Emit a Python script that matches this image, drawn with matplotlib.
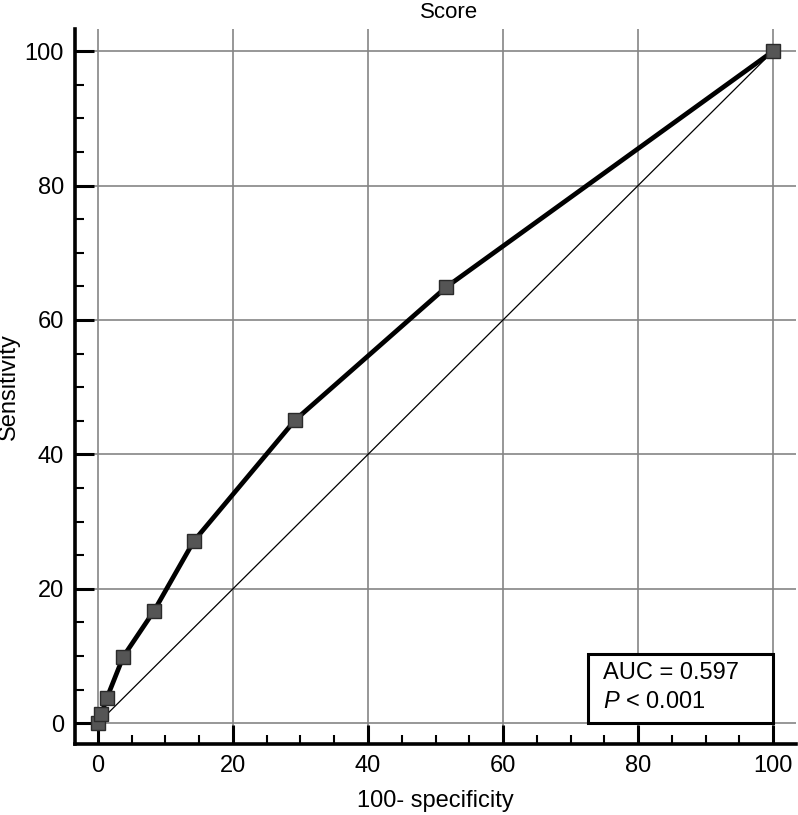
import matplotlib
matplotlib.use("Agg")
import matplotlib.pyplot as plt
from matplotlib.patches import Rectangle
from matplotlib.ticker import MultipleLocator

# ROC points
fpr = [0, 0.5, 1.3, 3.75, 8.3, 14.2, 29.2, 51.6, 100]
sens = [0, 1.3, 3.7, 9.9, 16.7, 27.1, 45.1, 64.9, 100]
ref_line = [0, 100]

plt.rcParams['font.family'] = ['Liberation Sans', 'DejaVu Sans']
plt.rcParams['mathtext.fontset'] = 'custom'
plt.rcParams['mathtext.it'] = 'Liberation Sans:italic'
plt.rcParams['mathtext.rm'] = 'Liberation Sans'

fig = plt.figure(figsize=(7.98, 8.15), dpi=100)
ax = fig.add_axes([0.094, 0.0871, 0.9035, 0.8773])

ax.set_xlim(-3.4, 103.4)
ax.set_ylim(-3.1, 103.3)

ax.grid(True, color='#858585', linewidth=1.2, zorder=0)
ax.set_axisbelow(True)

# chance line and ROC curve
ax.plot(ref_line, ref_line, color='black', linewidth=0.9, zorder=2)
ax.plot(fpr, sens, color='black', linewidth=3.4, marker='s', markersize=10,
        markerfacecolor='#555555', markeredgecolor='#2a2a2a',
        markeredgewidth=1.0, zorder=3)

ax.spines['top'].set_visible(False)
ax.spines['right'].set_visible(False)
ax.spines['left'].set_linewidth(2.6)
ax.spines['bottom'].set_linewidth(2.6)

ax.xaxis.set_major_locator(MultipleLocator(20))
ax.yaxis.set_major_locator(MultipleLocator(20))
ax.xaxis.set_minor_locator(MultipleLocator(5))
ax.yaxis.set_minor_locator(MultipleLocator(5))
ax.tick_params(which='major', direction='in', length=14, width=2.2,
               labelsize=17, pad=8)
ax.tick_params(which='minor', direction='in', length=6.5, width=1.5)

ax.set_xlabel("100- specificity", fontsize=17, labelpad=9)
ax.set_ylabel("Sensitivity", fontsize=17, labelpad=3)
fig.text(0.563, 0.985, "Score", fontsize=16, ha='center', va='center')

# AUC box
box = Rectangle((72.6, 0), 27.4, 10.3, facecolor='white', edgecolor='black',
                linewidth=2.2, zorder=4)
ax.add_patch(box)
ax.text(74.8, 7.4, "AUC = 0.597", fontsize=17, va='center', ha='left', zorder=5)
ax.text(74.8, 3.1, "$P$ < 0.001", fontsize=17, va='center', ha='left', zorder=5)

fig.savefig("out.png", dpi=100)
